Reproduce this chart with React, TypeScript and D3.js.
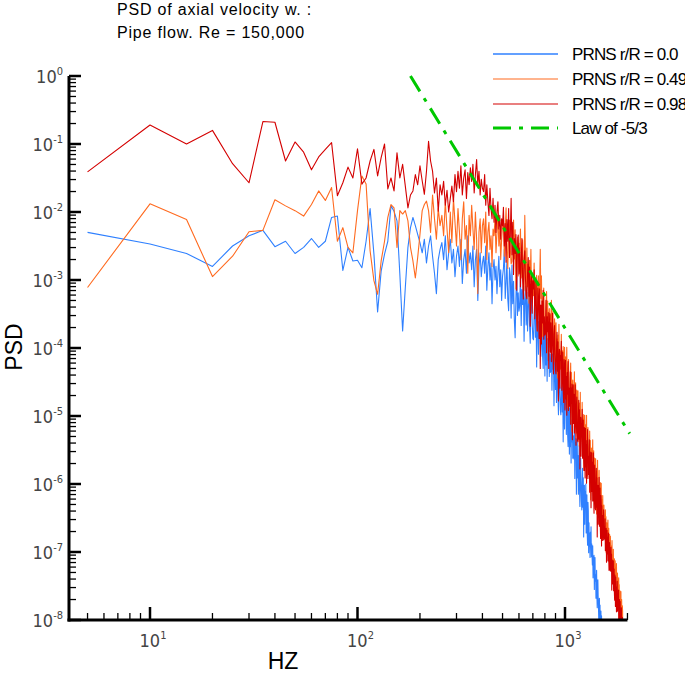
import React from 'react';
import * as d3 from 'd3';

// Frequencies are uniformly spaced: f_i = (i + 1) * 5 Hz
const FREQ_STEP_HZ = 5;

// log10(PSD), r/R = 0.0 (blue)
const blueLog = [
  -2.30,-2.47,-2.61,-2.80,-2.50,-2.35,-2.27,-2.51,-2.43,-2.61,
  -2.52,-2.39,-2.52,-2.43,-2.08,-2.06,-2.86,-2.52,-2.72,-2.71,
  -2.82,-2.43,-1.95,-2.62,-3.47,-2.87,-2.62,-2.43,-1.91,-1.99,
  -2.13,-2.92,-3.75,-3.11,-2.52,-2.23,-2.08,-2.20,-2.33,-2.45,
  -2.60,-2.40,-2.75,-2.50,-2.35,-2.65,-2.90,-3.20,-2.70,-2.55,
  -2.45,-2.70,-2.35,-2.85,-2.60,-2.40,-2.75,-2.55,-2.95,-2.65,
  -2.50,-2.80,-2.40,-3.05,-2.70,-2.55,-2.90,-2.35,-2.75,-2.60,
  -2.85,-2.50,-3.10,-2.70,-2.55,-3.30,-2.80,-2.60,-2.95,-2.75,
  -2.65,-2.90,-2.50,-3.15,-2.80,-2.60,-3.00,-2.75,-3.35,-2.85,
  -2.70,-3.00,-2.80,-3.20,-2.90,-2.65,-3.10,-2.85,-3.30,-2.95,
  -2.83,-2.55,-3.27,-3.04,-2.71,-3.28,-3.45,-2.82,-2.94,-3.56,
  -2.78,-3.35,-3.02,-3.59,-3.85,-3.28,-2.80,-3.52,-3.19,-3.46,
  -3.38,-2.90,-3.67,-3.14,-3.36,-3.08,-3.90,-3.27,-3.09,-3.66,
  -3.18,-3.75,-3.37,-3.04,-3.66,-3.93,-3.35,-3.22,-3.64,-3.86,
  -3.88,-3.50,-3.27,-3.84,-3.41,-4.28,-3.65,-3.52,-4.09,-3.61,
  -3.68,-3.40,-4.12,-3.89,-3.56,-4.13,-4.30,-3.67,-3.79,-4.41,
  -3.68,-4.25,-3.92,-4.49,-3.86,-4.18,-3.70,-4.42,-4.09,-4.36,
  -4.33,-3.85,-4.62,-4.09,-4.31,-4.03,-4.85,-4.22,-4.04,-4.61,
  -4.23,-4.80,-4.42,-4.09,-4.71,-4.98,-4.40,-4.27,-4.69,-4.91,
  -4.98,-4.60,-4.37,-4.94,-4.51,-5.38,-4.75,-4.62,-5.19,-4.71,
  -4.83,-4.55,-5.27,-5.04,-4.71,-5.28,-5.45,-4.82,-4.94,-5.56,
  -4.88,-5.45,-5.12,-5.69,-5.06,-5.38,-4.90,-5.62,-5.29,-5.56,
  -5.63,-5.15,-5.92,-5.39,-5.61,-5.33,-6.15,-5.52,-5.34,-5.91,
  -5.58,-6.15,-5.77,-5.44,-6.06,-6.33,-5.75,-5.62,-6.04,-6.26,
  -6.38,-6.00,-5.77,-6.34,-5.91,-6.78,-6.15,-6.02,-6.59,-6.11,
  -6.28,-6.00,-6.72,-6.49,-6.16,-6.73,-6.90,-6.27,-6.39,-7.01,
  -6.57,-6.92,-6.73,-7.08,-6.71,-6.91,-6.63,-7.07,-6.88,-7.05,
  -7.19,-6.91,-7.38,-7.07,-7.21,-7.05,-7.55,-7.18,-7.08,-7.43,
  -7.33,-7.68,-7.46,-7.27,-7.65,-7.82,-7.48,-7.41,-7.67,-7.81,
  -8.03,-7.81,-7.68,-8.03,-7.78,-8.31,-7.94,-7.87,-8.22,-7.94,
  -8.19,-8.03,-8.47,-8.34,-8.15,-8.50,-8.61,-8.24,-8.32,-8.70,
];

// log10(PSD), r/R = 0.49 (orange)
const orangeLog = [
  -3.11,-1.88,-2.11,-2.95,-2.65,-2.29,-2.27,-1.82,-1.91,-1.98,
  -2.06,-1.89,-1.69,-1.83,-1.64,-2.43,-2.23,-2.52,-2.60,-1.98,
  -1.47,-1.59,-2.57,-3.01,-3.21,-2.72,-2.43,-2.08,-1.89,-1.94,
  -2.52,-1.98,-2.03,-1.98,-2.13,-2.52,-2.72,-2.97,-2.67,-2.33,
  -1.98,-1.89,-1.84,-1.98,-2.30,-1.75,-2.10,-2.40,-1.95,-2.20,
  -2.05,-2.35,-1.85,-2.25,-2.60,-2.00,-2.45,-1.80,-2.15,-2.50,
  -1.95,-2.30,-2.70,-2.10,-1.85,-2.40,-2.20,-2.90,-2.05,-2.35,
  -1.90,-2.25,-2.55,-2.00,-2.40,-3.20,-2.30,-2.10,-2.60,-2.20,
  -2.10,-2.45,-2.00,-2.70,-2.30,-2.15,-2.55,-2.35,-2.80,-2.25,
  -2.35,-2.10,-2.60,-2.30,-2.05,-2.50,-2.25,-2.70,-2.40,-2.20,
  -2.08,-2.65,-2.27,-1.94,-2.56,-2.83,-2.25,-2.12,-2.54,-2.76,
  -2.73,-2.35,-2.12,-2.69,-2.26,-3.13,-2.50,-2.37,-2.94,-2.46,
  -2.53,-2.25,-2.97,-2.74,-2.41,-2.98,-3.15,-2.05,-2.64,-3.26,
  -2.53,-3.10,-2.77,-3.34,-2.71,-3.03,-2.55,-3.27,-2.94,-3.21,
  -3.23,-2.75,-3.52,-2.99,-3.21,-2.93,-3.75,-3.12,-2.94,-3.51,
  -3.08,-2.55,-3.27,-2.94,-3.56,-3.83,-3.25,-3.12,-3.54,-3.76,
  -3.78,-3.40,-3.17,-3.74,-3.31,-4.18,-3.55,-3.42,-3.99,-3.51,
  -3.58,-3.30,-4.02,-3.79,-3.46,-4.03,-4.20,-3.57,-3.69,-4.31,
  -3.63,-4.20,-3.87,-4.44,-3.81,-4.13,-3.65,-4.37,-4.04,-4.31,
  -4.28,-3.80,-4.57,-4.04,-4.26,-3.98,-4.80,-4.17,-3.99,-4.56,
  -4.13,-4.70,-4.32,-3.99,-4.61,-4.88,-4.30,-4.17,-4.59,-4.81,
  -4.83,-4.45,-4.22,-4.79,-4.36,-5.23,-4.60,-4.47,-5.04,-4.56,
  -4.63,-4.35,-5.07,-4.84,-4.51,-5.08,-5.25,-4.62,-4.74,-5.36,
  -4.63,-5.20,-4.87,-5.44,-4.81,-5.13,-4.65,-5.37,-5.04,-5.31,
  -5.28,-4.80,-5.57,-5.04,-5.26,-4.98,-5.80,-5.17,-4.99,-5.56,
  -5.13,-5.70,-5.32,-4.99,-5.61,-5.88,-5.30,-5.17,-5.59,-5.81,
  -5.83,-5.45,-5.22,-5.79,-5.36,-6.23,-5.60,-5.47,-6.04,-5.56,
  -5.63,-5.35,-6.07,-5.84,-5.51,-6.08,-6.25,-5.62,-5.74,-6.36,
  -5.63,-6.20,-5.87,-6.44,-5.81,-6.13,-5.65,-6.37,-6.04,-6.31,
  -6.28,-5.80,-6.57,-6.04,-6.26,-5.98,-6.80,-6.17,-5.99,-6.56,
  -6.23,-6.58,-6.36,-6.17,-6.55,-6.72,-6.38,-6.31,-6.57,-6.71,
  -6.73,-6.51,-6.38,-6.73,-6.48,-7.01,-6.64,-6.57,-6.92,-6.64,
  -6.69,-6.53,-6.97,-6.84,-6.65,-7.00,-7.11,-6.74,-6.82,-7.20,
  -6.77,-7.12,-6.93,-7.28,-6.91,-7.11,-6.83,-7.27,-7.08,-7.25,
  -7.24,-6.96,-7.43,-7.12,-7.26,-7.10,-7.60,-7.23,-7.13,-7.48,
  -7.23,-7.58,-7.36,-7.17,-7.55,-7.72,-7.38,-7.31,-7.57,-7.71,
  -7.73,-7.51,-7.38,-7.73,-7.48,-8.01,-7.64,-7.57,-7.92,-7.64,
  -7.74,-7.58,-8.02,-7.89,-7.70,-8.05,-8.16,-7.79,-7.87,-8.25,
];

// log10(PSD), r/R = 0.98 (red)
const redLog = [
  -1.41,-0.72,-1.00,-0.80,-1.29,-1.57,-0.67,-0.68,-1.25,-0.97,
  -1.12,-1.38,-1.19,-1.08,-0.98,-1.76,-1.57,-1.34,-1.50,-1.07,
  -1.59,-1.50,-1.25,-1.08,-1.47,-1.20,-1.00,-1.66,-1.50,-1.69,
  -1.13,-1.50,-1.30,-1.62,-1.94,-1.75,-1.69,-1.45,-1.60,-1.32,
  -1.54,-1.74,-1.40,-0.96,-1.25,-1.40,-1.72,-1.50,-1.99,-1.60,
  -1.75,-1.55,-1.90,-1.68,-2.00,-1.80,-1.62,-1.85,-1.45,-1.70,
  -1.40,-1.65,-1.32,-1.75,-1.50,-1.38,-1.80,-1.42,-1.60,-1.35,
  -1.55,-1.30,-1.72,-1.45,-1.23,-1.60,-1.40,-1.75,-1.52,-1.65,
  -1.70,-1.45,-1.90,-1.60,-1.85,-2.05,-1.65,-1.95,-2.10,-1.80,
  -2.15,-1.90,-2.30,-2.00,-1.85,-2.25,-2.05,-2.40,-2.10,-2.20,
  -1.93,-2.50,-2.17,-2.74,-2.11,-2.43,-1.95,-2.67,-2.34,-1.80,
  -2.63,-2.15,-2.92,-2.39,-2.61,-2.33,-3.15,-2.52,-2.34,-2.91,
  -2.53,-3.10,-2.72,-2.39,-3.01,-3.28,-2.70,-2.57,-2.99,-3.21,
  -3.28,-2.90,-2.67,-3.24,-2.81,-3.68,-3.05,-2.92,-3.49,-3.01,
  -3.13,-2.85,-3.57,-3.34,-3.01,-3.58,-3.75,-3.12,-3.24,-3.86,
  -3.13,-4.30,-3.37,-3.94,-3.31,-3.63,-3.15,-3.87,-3.54,-3.81,
  -3.78,-3.30,-4.07,-3.54,-3.76,-3.48,-4.30,-3.67,-3.49,-4.06,
  -3.63,-4.20,-3.82,-3.49,-4.11,-4.38,-3.80,-3.67,-4.09,-4.31,
  -4.38,-4.00,-3.77,-4.34,-3.91,-4.78,-4.15,-4.02,-4.59,-4.11,
  -4.18,-3.90,-4.62,-4.39,-4.06,-4.63,-4.80,-4.17,-4.29,-4.91,
  -4.18,-4.75,-4.42,-4.99,-4.36,-4.68,-4.20,-4.92,-4.59,-4.86,
  -4.83,-4.35,-5.12,-4.59,-4.81,-4.53,-5.35,-4.72,-4.54,-5.11,
  -4.68,-5.25,-4.87,-4.54,-5.16,-5.43,-4.85,-4.72,-5.14,-5.36,
  -5.38,-5.00,-4.77,-5.34,-4.91,-5.78,-5.15,-5.02,-5.59,-5.11,
  -5.18,-4.90,-5.62,-5.39,-5.06,-5.63,-5.80,-5.17,-5.29,-5.91,
  -5.18,-5.75,-5.42,-5.99,-5.36,-5.68,-5.20,-5.92,-5.59,-5.86,
  -5.83,-5.35,-6.12,-5.59,-5.81,-5.53,-6.35,-5.72,-5.54,-6.11,
  -5.68,-6.25,-5.87,-5.54,-6.16,-6.43,-5.85,-5.72,-6.14,-6.36,
  -6.38,-6.00,-5.77,-6.34,-5.91,-6.78,-6.15,-6.02,-6.59,-6.11,
  -6.18,-5.90,-6.62,-6.39,-6.06,-6.63,-6.80,-6.17,-6.29,-6.91,
  -6.32,-6.67,-6.48,-6.83,-6.46,-6.66,-6.38,-6.82,-6.63,-6.80,
  -6.79,-6.51,-6.98,-6.67,-6.81,-6.65,-7.15,-6.78,-6.68,-7.03,
  -6.78,-7.13,-6.91,-6.72,-7.10,-7.27,-6.93,-6.86,-7.12,-7.26,
  -7.28,-7.06,-6.93,-7.28,-7.03,-7.56,-7.19,-7.12,-7.47,-7.19,
  -7.29,-7.13,-7.57,-7.44,-7.25,-7.60,-7.71,-7.34,-7.42,-7.80,
  -7.37,-7.72,-7.53,-7.88,-7.51,-7.71,-7.43,-7.87,-7.68,-7.85,
  -7.84,-7.56,-8.03,-7.72,-7.86,-7.70,-8.20,-7.83,-7.73,-8.08,
  -7.88,-8.23,-8.01,-7.82,-8.20,-8.37,-8.03,-7.96,-8.22,-8.36,
];

// Reference -5/3 law line (two end points, Hz and PSD)
const lawFreq = [180, 2050];
const lawPsd = [1, 5.5e-6];

const seriesLabels = ['PRNS r/R = 0.0', 'PRNS r/R = 0.49', 'PRNS r/R = 0.98', 'Law of -5/3'];
const seriesColors = ['#2f80ff', '#ff6a1f', '#d40000', '#00c800'];
const titleLines = ['PSD of axial velocity w. :', 'Pipe flow. Re = 150,000'];
const xLabel = 'HZ';
const yLabel = 'PSD';
const yTickExps = [0, -1, -2, -3, -4, -5, -6, -7, -8];
const xTickExps = [1, 2, 3];

const W = 685;
const H = 682;

export default function App() {
  const x = d3.scaleLog().domain([10, 1000]).range([150, 565]);
  const y = d3.scaleLog().domain([1e-8, 1]).range([620, 76]);
  const xMin = 4.07;
  const xMax = 2000;
  const x0 = x(xMin);
  const x1 = x(xMax);
  const yTop = y(1);
  const yBot = y(1e-8);

  const toPts = (arr: number[]) => arr.map((v, i) => [(i + 1) * FREQ_STEP_HZ, Math.pow(10, v)] as [number, number]);
  const line = d3.line<[number, number]>().x(d => x(d[0])).y(d => y(d[1]));

  const series = [blueLog, orangeLog, redLog].map(toPts);
  const lawPts = lawFreq.map((f, i) => [f, lawPsd[i]] as [number, number]);

  const yMajor = yTickExps.map(e => Math.pow(10, e));
  const yMinor: number[] = [];
  for (let e = -8; e < 0; e++) for (let m = 2; m <= 9; m++) yMinor.push(m * Math.pow(10, e));
  const xMajor = xTickExps.map(e => Math.pow(10, e));
  const xMinor: number[] = [];
  for (let e = 0; e <= 3; e++) for (let m = 2; m <= 9; m++) {
    const v = m * Math.pow(10, e);
    if (v >= xMin && v <= xMax) xMinor.push(v);
  }

  const tickFont = "'Liberation Sans Narrow', 'DejaVu Sans Condensed', 'Liberation Sans', Arial, sans-serif";
  const font = "'Liberation Sans', Arial, Helvetica, sans-serif";

  const legX0 = 493;
  const legX1 = 558;
  const legY = [54, 79, 104, 128];

  return (
    <svg width={W} height={H} style={{ position: 'absolute', left: 0, top: 0, background: '#fff' }}>
      <defs>
        <clipPath id="plotclip">
          <rect x={x0} y={yTop - 2} width={x1 - x0 + 6} height={yBot - yTop + 2} />
        </clipPath>
      </defs>
      <rect x={0} y={0} width={W} height={H} fill="#fff" />

      {titleLines.map((t, i) => (
        <text key={i} x={117} y={15 + i * 22.5} fontFamily={font} fontSize={16} letterSpacing={0.8} fill="#000">{t}</text>
      ))}

      <g clipPath="url(#plotclip)">
        {series.map((pts, i) => (
          <path key={i} d={line(pts) || ''} fill="none" stroke={seriesColors[i]} strokeWidth={1.1} strokeLinejoin="round" />
        ))}
        <path d={line(lawPts) || ''} fill="none" stroke={seriesColors[3]} strokeWidth={3} strokeDasharray="18,8,4,8" />
      </g>

      <line x1={x0} x2={x0} y1={yTop} y2={yBot + 1.5} stroke="#000" strokeWidth={3} />
      <line x1={x0 - 1.5} x2={x1} y1={yBot} y2={yBot} stroke="#000" strokeWidth={3} />

      {yMajor.map((v, i) => (
        <line key={'ym' + i} x1={x0} x2={x0 + 12} y1={y(v)} y2={y(v)} stroke="#000" strokeWidth={2.5} />
      ))}
      {yMinor.map((v, i) => (
        <line key={'yn' + i} x1={x0} x2={x0 + 7} y1={y(v)} y2={y(v)} stroke="#000" strokeWidth={1.3} />
      ))}
      {xMajor.map((v, i) => (
        <line key={'xm' + i} x1={x(v)} x2={x(v)} y1={yBot} y2={yBot - 13} stroke="#000" strokeWidth={2.5} />
      ))}
      {xMinor.map((v, i) => (
        <line key={'xn' + i} x1={x(v)} x2={x(v)} y1={yBot} y2={yBot - 7} stroke="#000" strokeWidth={1.3} />
      ))}

      {yTickExps.map((e, i) => (
        <text key={'yl' + i} x={63} y={y(Math.pow(10, e)) + 7} textAnchor="end" fontFamily={tickFont} fontSize={18} fill="#444">
          10<tspan dy={-8} fontSize={11}>{e}</tspan>
        </text>
      ))}
      {xTickExps.map((e, i) => (
        <text key={'xl' + i} x={x(Math.pow(10, e)) + 3} y={647} textAnchor="middle" fontFamily={tickFont} fontSize={18} fill="#444">
          10<tspan dy={-8} fontSize={11}>{e}</tspan>
        </text>
      ))}

      <text x={283} y={669} textAnchor="middle" fontFamily={font} fontSize={23} fill="#000">{xLabel}</text>
      <text transform={`translate(22,347) rotate(-90)`} textAnchor="middle" fontFamily={font} fontSize={23} fill="#000">{yLabel}</text>

      {seriesLabels.map((s, i) => (
        <g key={'lg' + i}>
          <line x1={legX0} x2={legX1} y1={legY[i]} y2={legY[i]} stroke={seriesColors[i]}
            strokeWidth={i === 3 ? 3 : i === 0 ? 1.6 : 1.1}
            strokeDasharray={i === 3 ? '18,8,4,8' : undefined} />
          <text x={572} y={legY[i] + 6} fontFamily={font} fontSize={17} letterSpacing={-0.85} fill="#000">{s}</text>
        </g>
      ))}
    </svg>
  );
}
